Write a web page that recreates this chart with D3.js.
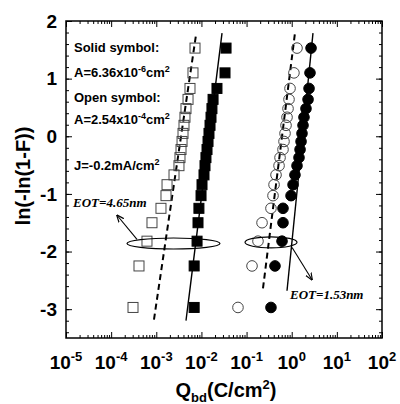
<!DOCTYPE html>
<html>
<head>
<meta charset="utf-8">
<script src="https://cdn.jsdelivr.net/npm/d3@7"></script>
<style>
  body { margin: 0; background: #fff; }
  text { font-family: "Liberation Sans", Arial, sans-serif; }
</style>
</head>
<body>
<div id="chart"></div>
<script>
// ln(-ln(1-F)) levels, shared by all four sets
const levels = [-2.97, -2.25, -1.82, -1.5, -1.25, -1.03, -0.84, -0.67, -0.51, -0.37,
  -0.23, -0.09, 0.05, 0.19, 0.33, 0.48, 0.64, 0.83, 1.1, 1.53];

// Qbd (C/cm2) for each level
const openSquareQ = [0.000305, 0.000414, 0.000622, 0.000803, 0.00127, 0.00164, 0.00173,
  0.00247, 0.00318, 0.00335, 0.00353, 0.00372, 0.00391, 0.00411, 0.00432, 0.00455,
  0.00505, 0.00558, 0.0065, 0.00721];
const solidSquareQ = [0.0069, 0.0069, 0.008, 0.0084, 0.0088, 0.0098, 0.0103, 0.0114,
  0.012, 0.0126, 0.0133, 0.014, 0.0147, 0.0155, 0.0163, 0.0171, 0.0181, 0.0221,
  0.0333, 0.0351];
const openCircleQ = [0.0645, 0.132, 0.179, 0.22, 0.347, 0.385, 0.406, 0.449, 0.524,
  0.551, 0.641, 0.675, 0.711, 0.748, 0.787, 0.828, 0.871, 0.917, 1.12, 1.31];
const solidCircleQ = [0.347, 0.426, 0.61, 0.641, 0.641, 0.966, 1.07, 1.18, 1.31, 1.45,
  1.53, 1.61, 1.69, 1.78, 1.87, 2.07, 2.3, 2.42, 2.54, 2.68];

// fitted lines [Q, ln(-ln(1-F))]
const solidSquareFit = [[0.00455, -3.2], [0.0286, 1.79]];
const dashedSquareFit = [[0.000889, -3.18], [0.00759, 1.76]];
const solidCircleFit = [[0.787, -2.68], [2.96, 1.79]];
const dashedCircleFit = [[0.231, -2.64], [1.18, 1.79]];

const xTicks = [-5, -4, -3, -2, -1, 0, 1, 2];
const yTicks = [-3, -2, -1, 0, 1, 2];

// set the dimensions and margins of the graph
const margin = { top: 21, right: 18, bottom: 66, left: 66 },
  width = 400 - margin.left - margin.right,
  height = 404 - margin.top - margin.bottom;

const svg = d3
  .select("#chart")
  .append("svg")
  .attr("width", 400)
  .attr("height", 404)
  .append("g")
  .attr("transform", `translate(${margin.left},${margin.top})`);

const x = d3.scaleLog().domain([1e-5, 1e2]).range([0, width]);
const y = d3.scaleLinear().domain([-3.5, 2]).range([height, 0]);

// ticks, all pointing inward
const majorX = xTicks.map((e) => Math.pow(10, e));
const minorX = x.ticks().filter((t) => !majorX.some((m) => Math.abs(m - t) / m < 1e-6));
const minorY = d3.range(-3.4, 2, 0.2).map((v) => +v.toFixed(1));

svg.append("g").attr("transform", `translate(0,${height})`)
  .call(d3.axisBottom(x).tickValues(majorX).tickSize(-6).tickFormat(""));
svg.append("g").attr("transform", `translate(0,${height})`)
  .call(d3.axisBottom(x).tickValues(minorX).tickSize(-3).tickFormat(""));
svg.append("g")
  .call(d3.axisTop(x).tickValues(majorX).tickSize(-6).tickFormat(""));
svg.append("g")
  .call(d3.axisTop(x).tickValues(minorX).tickSize(-3).tickFormat(""));
svg.append("g")
  .call(d3.axisLeft(y).tickValues(yTicks).tickSize(-6).tickFormat(""));
svg.append("g")
  .call(d3.axisLeft(y).tickValues(minorY).tickSize(-3).tickFormat(""));
svg.append("g").attr("transform", `translate(${width},0)`)
  .call(d3.axisRight(y).tickValues(yTicks).tickSize(-6).tickFormat(""));
svg.append("g").attr("transform", `translate(${width},0)`)
  .call(d3.axisRight(y).tickValues(minorY).tickSize(-3).tickFormat(""));
svg.selectAll(".domain").remove();
svg.selectAll(".tick line").attr("stroke", "#000").attr("stroke-width", 1);

svg.append("rect")
  .attr("width", width)
  .attr("height", height)
  .attr("fill", "none")
  .attr("stroke", "#000")
  .attr("stroke-width", 1.5);

// tick labels
const xl = svg.selectAll(".xlab")
  .data(xTicks)
  .join("text")
  .attr("x", (d) => x(Math.pow(10, d)))
  .attr("y", height + 31)
  .attr("text-anchor", "middle")
  .style("font-size", "19px")
  .style("font-weight", "bold");
xl.append("tspan").text("10");
xl.append("tspan").attr("dy", -8).style("font-size", "13px").text((d) => d);

svg.selectAll(".ylab")
  .data(yTicks)
  .join("text")
  .attr("x", -9)
  .attr("y", (d) => y(d))
  .attr("dy", "0.35em")
  .attr("text-anchor", "end")
  .style("font-size", "19px")
  .style("font-weight", "bold")
  .text((d) => d);

// axis titles
const xt = svg.append("text")
  .attr("x", width / 2 + 2)
  .attr("y", height + 59)
  .attr("text-anchor", "middle")
  .style("font-size", "20px")
  .style("font-weight", "bold");
xt.append("tspan").text("Q");
xt.append("tspan").attr("dy", 5).style("font-size", "13px").text("bd");
xt.append("tspan").attr("dy", -5).text("(C/cm");
xt.append("tspan").attr("dy", -8).style("font-size", "13px").text("2");
xt.append("tspan").attr("dy", 8).text(")");

svg.append("text")
  .attr("transform", `translate(${-36},${155}) rotate(-90)`)
  .attr("text-anchor", "middle")
  .style("font-size", "20px")
  .style("font-weight", "bold")
  .text("ln(-ln(1-F))");

// fitted lines
const line = d3.line().x((d) => x(d[0])).y((d) => y(d[1]));
[
  [solidSquareFit, null],
  [dashedSquareFit, "6,4"],
  [solidCircleFit, null],
  [dashedCircleFit, "6,4"],
].forEach(([pts, dash]) => {
  svg.append("path")
    .attr("d", line(pts))
    .attr("fill", "none")
    .attr("stroke", "#000")
    .attr("stroke-width", dash ? 2 : 1.4)
    .attr("stroke-dasharray", dash);
});

// markers
function squares(q, filled) {
  svg.append("g")
    .selectAll("rect")
    .data(q.map((v, i) => [v, levels[i]]))
    .join("rect")
    .attr("x", (d) => x(d[0]) - 5)
    .attr("y", (d) => y(d[1]) - 5)
    .attr("width", 10)
    .attr("height", 10)
    .attr("fill", filled ? "#000" : "none")
    .attr("stroke", filled ? "#000" : "#444")
    .attr("stroke-width", 1);
}
function circles(q, filled) {
  svg.append("g")
    .selectAll("circle")
    .data(q.map((v, i) => [v, levels[i]]))
    .join("circle")
    .attr("cx", (d) => x(d[0]))
    .attr("cy", (d) => y(d[1]))
    .attr("r", 5.3)
    .attr("fill", filled ? "#000" : "none")
    .attr("stroke", filled ? "#000" : "#444")
    .attr("stroke-width", 1);
}
squares(openSquareQ, false);
squares(solidSquareQ, true);
circles(openCircleQ, false);
circles(solidCircleQ, true);

// ellipses around the EOT groups
const ellipses = [
  { x0: 0.000224, x1: 0.0258, v: -1.86 },
  { x0: 0.0923, x1: 1.31, v: -1.84 },
];
svg.selectAll(".ell")
  .data(ellipses)
  .join("ellipse")
  .attr("cx", (d) => (x(d.x0) + x(d.x1)) / 2)
  .attr("cy", (d) => y(d.v))
  .attr("rx", (d) => (x(d.x1) - x(d.x0)) / 2)
  .attr("ry", 5.5)
  .attr("fill", "none")
  .attr("stroke", "#000")
  .attr("stroke-width", 1.2);

svg.append("defs").append("marker")
  .attr("id", "arrow")
  .attr("viewBox", "0 0 10 10")
  .attr("refX", 9)
  .attr("refY", 5)
  .attr("markerWidth", 7)
  .attr("markerHeight", 7)
  .attr("orient", "auto")
  .append("path")
  .attr("d", "M0,1 L10,5 L0,9")
  .attr("fill", "none")
  .attr("stroke", "#000")
  .attr("stroke-width", 1.5);

const arrows = [
  [[0.000374, -1.79], [0.000135, -1.37]],
  [[1.02, -1.93], [2.82, -2.49]],
];
arrows.forEach((a) => {
  svg.append("path")
    .attr("d", line(a))
    .attr("stroke", "#000")
    .attr("stroke-width", 1.1)
    .attr("marker-end", "url(#arrow)");
});

// EOT labels
const eot = [
  { q: 1.43e-5, v: -1.22, t: "EOT=4.65nm" },
  { q: 0.916, v: -2.83, t: "EOT=1.53nm" },
];
svg.selectAll(".eot")
  .data(eot)
  .join("text")
  .attr("x", (d) => x(d.q))
  .attr("y", (d) => y(d.v))
  .style("font-family", '"Liberation Serif", "Times New Roman", serif')
  .style("font-style", "italic")
  .style("font-weight", "bold")
  .style("font-size", "13px")
  .text((d) => d.t);

// legend text
function note(ty, parts) {
  const t = svg.append("text")
    .attr("x", 8)
    .attr("y", ty)
    .style("font-size", "13px")
    .style("font-weight", "bold");
  parts.forEach(([s, sup]) => {
    t.append("tspan")
      .attr("dy", sup === 1 ? -5 : sup === -1 ? 5 : 0)
      .style("font-size", sup === 1 ? "9px" : "13px")
      .text(s);
  });
}
note(31, [["Solid symbol:", 0]]);
note(56, [["A=6.36x10", 0], ["-6", 1], ["cm", -1], ["2", 1]]);
note(81, [["Open symbol:", 0]]);
note(103, [["A=2.54x10", 0], ["-4", 1], ["cm", -1], ["2", 1]]);
note(149, [["J=-0.2mA/cm", 0], ["2", 1]]);
</script>
</body>
</html>
